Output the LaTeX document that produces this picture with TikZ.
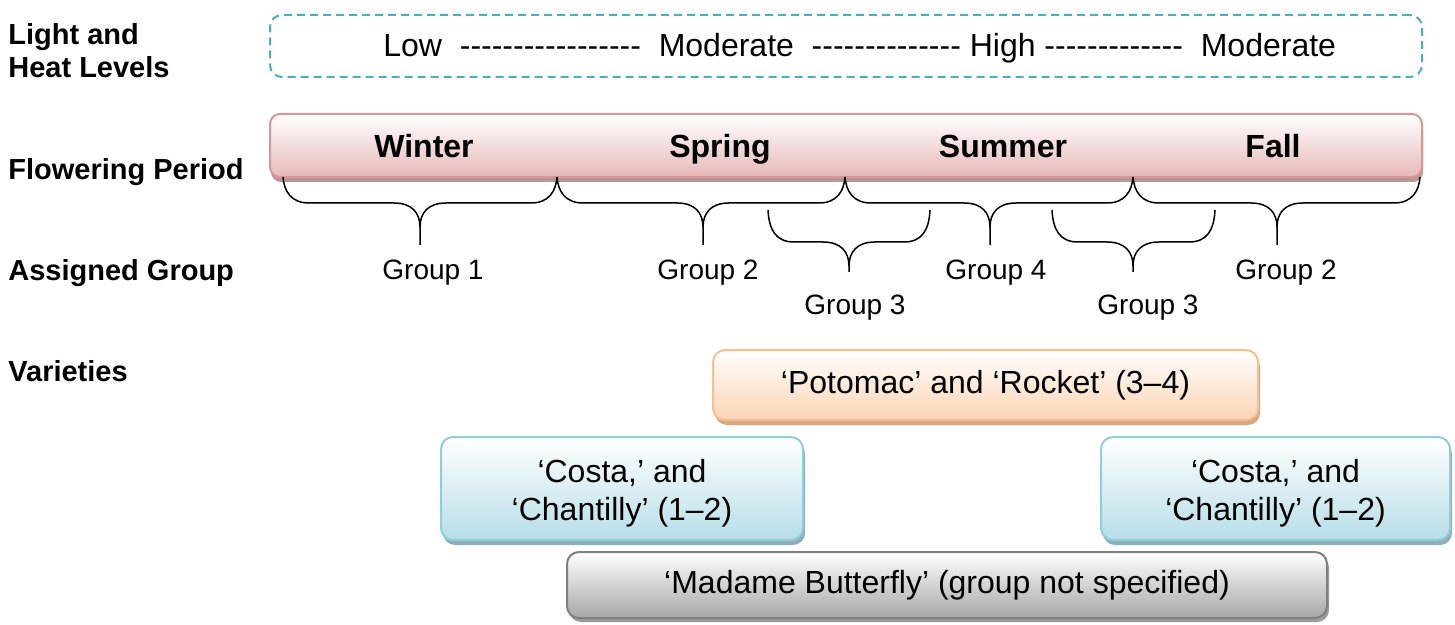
\documentclass[tikz,border=0pt]{standalone}
\usepackage{fontspec}
\setmainfont{Liberation Sans}
\usetikzlibrary{shadows}
\definecolor{cyanD}{HTML}{4BACC6}
\definecolor{pinkB}{HTML}{D99694}
\definecolor{pinkF}{HTML}{E6B9B8}
\definecolor{pinkS}{HTML}{B89696}
\definecolor{orB}{HTML}{F9BF8F}
\definecolor{orF}{HTML}{FBD4B4}
\definecolor{orS}{HTML}{D6A886}
\definecolor{blB}{HTML}{92CDDC}
\definecolor{blF}{HTML}{B7DEE8}
\definecolor{blS}{HTML}{8FAEB6}
\definecolor{grB}{HTML}{7F7F7F}
\definecolor{grF}{HTML}{A6A6A6}
\definecolor{grS}{HTML}{9A9A9A}
\newcommand\dashrun[1]{\foreach \i in {1,...,#1}{\mbox{-}}}
\newcommand\mybrace[6]{%
 \draw[bracel] (#1,#4) .. controls (#1+1,#5-12) and (#1+8,#5) .. (#1+26,#5) -- (#3-26,#5) .. controls (#3-8,#5) and (#3,#5+10) .. (#3,#5+24) -- (#3,#6);
 \draw[bracel] (#2,#4) .. controls (#2-1,#5-12) and (#2-8,#5) .. (#2-26,#5) -- (#3+26,#5) .. controls (#3+8,#5) and (#3,#5+10) .. (#3,#5+24);
}
\tikzset{
 lbl/.style={anchor=base west, font=\fontsize{14.5}{17}\selectfont\bfseries, inner sep=0pt},
 season/.style={anchor=base, font=\fontsize{16}{19}\selectfont\bfseries, inner sep=0pt},
 grp/.style={anchor=base, font=\fontsize{14}{17}\selectfont, inner sep=0pt},
 bracel/.style={draw=black, line width=0.75pt, line join=round},
 vbox/.style={rounded corners=6pt, line width=1pt, inner sep=0pt, align=center,
   font=\fontsize{16}{19}\selectfont},
 vtxt/.style={inner sep=0pt, align=center, font=\fontsize{16}{19}\selectfont},
}
\begin{document}
\begin{tikzpicture}[x=0.5pt,y=-0.5pt]
\useasboundingbox (0,0) rectangle (1455,625);
% left labels
\node[lbl] (l1) at (8,45) {Light and};
\node[lbl] (l2) at (8,78) {Heat Levels};
\node[lbl] (l3) at (8,180) {Flowering Period};
\node[lbl] (l4) at (8,281) {Assigned Group};
\node[lbl] (l5) at (8,381) {Varieties};
% dashed box
\node[draw=cyanD, dashed, dash pattern=on 4pt off 2.5pt, line width=1pt, rounded corners=6pt,
  minimum width=576pt, minimum height=31pt, inner sep=0pt] (lvl) at (846,46) {};
\node[anchor=base west, inner sep=0pt, font=\fontsize{16}{19}\selectfont] (lvltxt) at (383,57)
 {Low~~\dashrun{17}~~Moderate~~\dashrun{14}~High~\dashrun{13}~~Moderate};
% flowering bar
\node[draw=pinkB, line width=1pt, rounded corners=5pt, top color=white, bottom color=pinkF,
  drop shadow={shadow xshift=0.5pt, shadow yshift=-2.5pt, fill=pinkS, opacity=1},
  minimum width=576pt, minimum height=31.5pt, inner sep=0pt] (bar) at (846,145.5) {};
\node[season] (s1) at (424,158) {Winter};
\node[season] (s2) at (720,158) {Spring};
\node[season] (s3) at (1003,158) {Summer};
\node[season] (s4) at (1273,158) {Fall};
% braces
\mybrace{283}{557}{420}{177}{203}{245}
\mybrace{557}{845}{703}{177}{203}{245}
\mybrace{845}{1133}{990}{177}{203}{245}
\mybrace{1133}{1420}{1277}{177}{203}{245}
\mybrace{768}{930}{849}{210}{242}{272}
\mybrace{1052}{1215}{1133}{210}{242}{272}
% groups
\node[grp] (g1) at (433,280) {Group 1};
\node[grp] (g2) at (708,280) {Group 2};
\node[grp] (g3) at (855,315) {Group 3};
\node[grp] (g4) at (996,280) {Group 4};
\node[grp] (g5) at (1148,315) {Group 3};
\node[grp] (g6) at (1286,280) {Group 2};
% varieties
\node[vbox, draw=orB, top color=white, bottom color=orF,
  drop shadow={shadow xshift=1pt, shadow yshift=-2.5pt, fill=orS, opacity=1},
  minimum width=272.5pt, minimum height=35pt] (pot) at (985.5,385) {‘Potomac’ and ‘Rocket’ (3–4)};
\node[vbox, draw=blB, top color=white, bottom color=blF,
  drop shadow={shadow xshift=1pt, shadow yshift=-2.5pt, fill=blS, opacity=1},
  minimum width=181pt, minimum height=51.5pt] (cos1) at (622,488.5) {};
\node[vtxt] (cos1t) at (622,493) {‘Costa,’ and\\‘Chantilly’ (1–2)};
\node[vbox, draw=blB, top color=white, bottom color=blF,
  drop shadow={shadow xshift=1pt, shadow yshift=-2.5pt, fill=blS, opacity=1},
  minimum width=174.5pt, minimum height=51.5pt] (cos2) at (1275.5,488.5) {};
\node[vtxt] (cos2t) at (1275.5,493) {‘Costa,’ and\\‘Chantilly’ (1–2)};
\node[vbox, draw=grB, top color=white, bottom color=grF,
  drop shadow={shadow xshift=1pt, shadow yshift=-2pt, fill=grS, opacity=1},
  minimum width=380pt, minimum height=33pt] (mad) at (947,585) {‘Madame Butterfly’ (group not specified)};
\end{tikzpicture}
\end{document}
